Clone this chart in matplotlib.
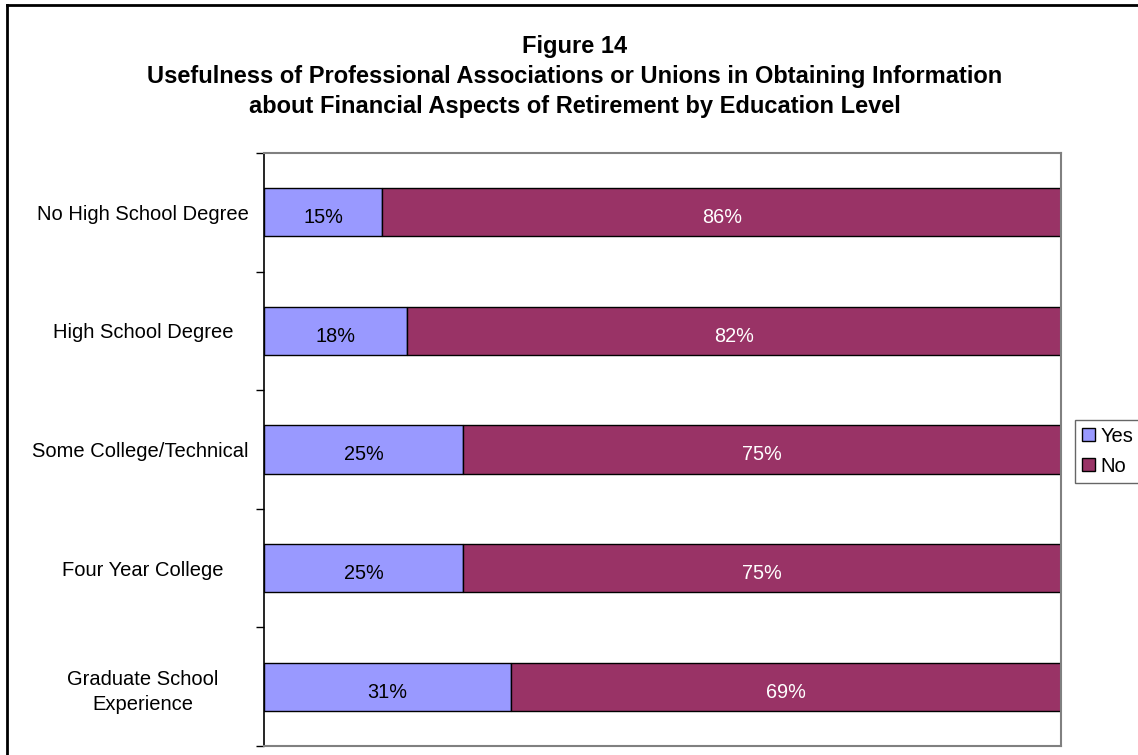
import matplotlib
matplotlib.use("Agg")
import matplotlib.pyplot as plt
import numpy as np

plt.rcParams['font.family'] = ['Liberation Sans', 'DejaVu Sans']

categories = ["No High School Degree", "High School Degree", "Some College/Technical ",
              "Four Year College", "Graduate School\nExperience"]
yes_pct = [15, 18, 25, 25, 31]
no_pct = [86, 82, 75, 75, 69]

title_lines = ["Figure 14",
               "Usefulness of Professional Associations or Unions in Obtaining Information",
               "about Financial Aspects of Retirement by Education Level"]

yes_color = '#9999FF'
no_color = '#993366'

fig = plt.figure(figsize=(11.38, 7.55), dpi=100)
ax = fig.add_axes([264 / 1138, 9 / 755, 797 / 1138, 593 / 755])

# 100% stacked: each row scaled to its own total
yes = np.array(yes_pct, dtype=float)
no = np.array(no_pct, dtype=float)
total = yes + no
yes_frac = yes / total * 100
no_frac = no / total * 100

pos = np.arange(len(categories))
h = 0.405
ax.barh(pos, yes_frac, height=h, color=yes_color, edgecolor='black', linewidth=1.0, label='Yes')
ax.barh(pos, no_frac, left=yes_frac, height=h, color=no_color, edgecolor='black', linewidth=1.0, label='No')

for i in range(len(categories)):
    ax.text(yes_frac[i] / 2, pos[i] + 0.045, f"{yes_pct[i]}%", ha='center', va='center',
            fontsize=14.3, color='black')
    ax.text(yes_frac[i] + no_frac[i] / 2, pos[i] + 0.045, f"{no_pct[i]}%", ha='center',
            va='center', fontsize=14.3, color='white')

ax.set_xlim(0, 100)
ax.set_ylim(len(categories) - 0.5, -0.5)
ax.set_xticks([])
ax.set_yticks(pos)
ax.set_yticklabels(categories, fontsize=14.5, ha='center', multialignment='center')
for lbl in ax.get_yticklabels():
    lbl.set_linespacing(1.45)
ax.tick_params(axis='y', length=0, pad=87)
ax.set_yticks(np.arange(-0.5, len(categories), 1.0), minor=True)
ax.tick_params(axis='y', which='minor', length=6, width=1, color='black', direction='out')

ax.spines['left'].set_color('black')
ax.spines['left'].set_linewidth(1.2)
for s in ['top', 'right', 'bottom']:
    ax.spines[s].set_color('#808080')
    ax.spines[s].set_linewidth(1.5)

leg = ax.legend(loc='center left', bbox_to_anchor=(1.0176, 0.497), fontsize=14.5,
                frameon=True, fancybox=False, handlelength=0.65, handleheight=0.65,
                handletextpad=0.25, borderpad=0.35, labelspacing=0.55, borderaxespad=0)
leg.get_frame().set_edgecolor('#404040')
leg.get_frame().set_linewidth(1.0)

title_y = [46, 76, 107]
for line, y in zip(title_lines, title_y):
    fig.text(575 / 1138, 1 - y / 755, line, ha='center', va='center',
             fontsize=17, fontweight='bold')

# outer chart frame (left and top edges)
fig.add_artist(plt.Line2D([6.5 / 1138, 6.5 / 1138], [0, 1 - 5 / 755], color='black', linewidth=2))
fig.add_artist(plt.Line2D([6.5 / 1138, 1], [1 - 5 / 755, 1 - 5 / 755], color='black', linewidth=2))

fig.savefig("out.png", dpi=100)
